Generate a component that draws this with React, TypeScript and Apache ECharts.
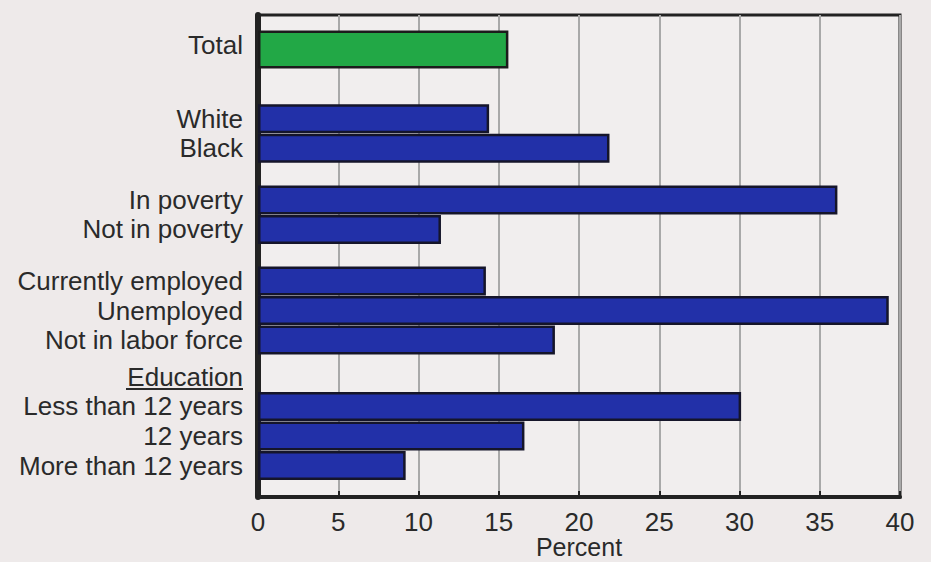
import React, { useEffect, useRef } from "react";
import * as echarts from "echarts";

// Data
const rowLabels = [
  "Total",
  "White",
  "Black",
  "In poverty",
  "Not in poverty",
  "Currently employed",
  "Unemployed",
  "Not in labor force",
  "Education",
  "Less than 12 years",
  "12 years",
  "More than 12 years",
];
const totalValue = 15.6;
const groupValues: (number | null)[] = [null, 14.4, 21.9, 36.1, 11.4, 14.2, 39.3, 18.5, null, 30.1, 16.6, 9.2];
const xTicks = [0, 40, 5];
const xTitle = "Percent";

// Layout (vertical slot of each row on a fine category axis)
const rowSlots = [0, 10, 14, 21, 25, 32, 36, 40, 45, 49, 53, 57];
const slotCount = 58;

const categories: string[] = [];
const totalData: (number | string)[] = [];
const groupData: (number | string)[] = [];
for (let i = 0; i < slotCount; i++) {
  categories.push("");
  totalData.push("-");
  groupData.push("-");
}
rowSlots.forEach((s, i) => {
  categories[s] = rowLabels[i];
  if (i === 0) totalData[s] = totalValue;
  const v = groupValues[i];
  if (v !== null) groupData[s] = v;
});

export default function App() {
  const ref = useRef<HTMLDivElement>(null);
  useEffect(() => {
    if (!ref.current) return;
    const chart = echarts.init(ref.current, null, { renderer: "svg" });
    const font = "'Liberation Sans', Arial, Helvetica, sans-serif";
    const textColor = "#2a2a2a";
    chart.setOption({
      animation: false,
      backgroundColor: "#eeeaea",
      grid: [
        {
          left: 258,
          right: 31,
          top: 15,
          bottom: 65,
          outerBoundsMode: "none",
          containLabel: false,
          show: true,
          backgroundColor: "#f1eeee",
          borderColor: "#222",
          borderWidth: 3,
        },
        {
          left: 258,
          right: 31,
          top: 41.3,
          bottom: 92.8,
          outerBoundsMode: "none",
          containLabel: false,
        },
      ],
      xAxis: [
        {
          gridIndex: 0,
          type: "value",
          min: xTicks[0],
          max: xTicks[1],
          interval: xTicks[2],
          axisLine: { show: true, onZero: false, lineStyle: { color: "#222", width: 4 } },
          axisTick: { show: true, inside: true, length: 6, lineStyle: { color: "#222", width: 2 } },
          splitLine: { show: true, lineStyle: { color: "#a9a9a9", width: 2 } },
          axisLabel: { color: textColor, fontSize: 26, fontFamily: font, margin: 12 },
          name: xTitle,
          nameLocation: "middle",
          nameGap: 37,
          nameMoveOverlap: false,
          nameTextStyle: { color: textColor, fontSize: 25, fontFamily: font },
        },
        {
          gridIndex: 1,
          type: "value",
          min: xTicks[0],
          max: xTicks[1],
          show: false,
        },
      ],
      yAxis: [
        {
          gridIndex: 0,
          type: "value",
          min: 0,
          max: 1,
          axisLine: { show: true, onZero: false, lineStyle: { color: "#222", width: 6 } },
          axisTick: { show: false },
          axisLabel: { show: false },
          splitLine: { show: false },
        },
        {
          gridIndex: 1,
          type: "category",
          inverse: true,
          data: categories,
          axisLine: { show: false },
          axisTick: { show: false },
          axisLabel: { interval: 0, color: textColor, fontSize: 26, fontFamily: font, margin: 15 },
        },
      ],
      series: [
        {
          type: "bar",
          xAxisIndex: 1,
          yAxisIndex: 1,
          data: totalData,
          barWidth: 38,
          barGap: "-100%",
          clip: false,
          itemStyle: { color: "#22a846", borderColor: "#1c1c1c", borderWidth: 2.5 },
          z: 3,
        },
        {
          type: "bar",
          xAxisIndex: 1,
          yAxisIndex: 1,
          data: groupData,
          barWidth: 29,
          barGap: "-100%",
          clip: false,
          itemStyle: { color: "#2230a8", borderColor: "#15152a", borderWidth: 2.5 },
          z: 3,
        },
      ],
      graphic: [
        {
          type: "line",
          shape: { x1: 126, y1: 389, x2: 243, y2: 389 },
          style: { stroke: "#2a2a2a", lineWidth: 2 },
        },
      ],
    });
    return () => chart.dispose();
  }, []);
  return (
    <div
      ref={ref}
      style={{ position: "fixed", left: 0, top: 0, width: 931, height: 562 }}
    />
  );
}
